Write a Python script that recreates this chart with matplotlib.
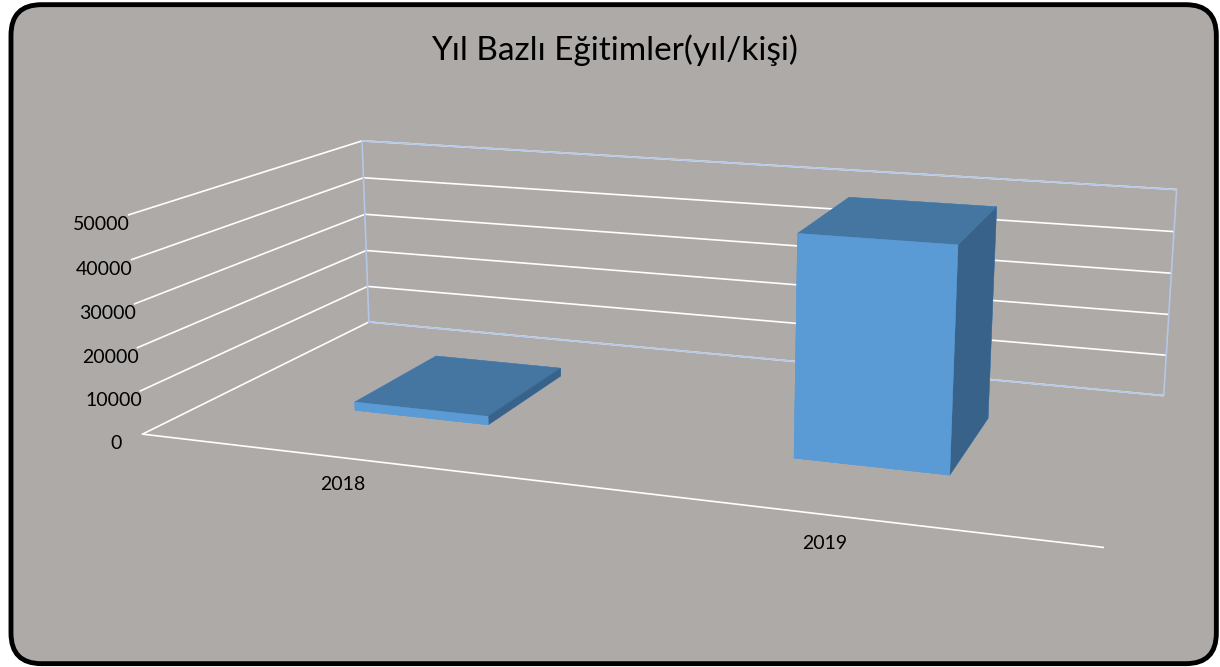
import numpy as np
import matplotlib.pyplot as plt
from matplotlib.patches import FancyBboxPatch

# veriler
years = ["2018", "2019"]
values = [2000, 49500]
z_ticks = [0, 10000, 20000, 30000, 40000, 50000]
title = "Yıl Bazlı Eğitimler(yıl/kişi)"

bg = "#adaaa8"
c_front = "#5b9bd5"
c_top = "#4575a1"
c_side = "#386289"
c_wall = "#b4c7e7"

plt.rcParams['font.family'] = ['Lato', 'DejaVu Sans']

fig = plt.figure(figsize=(12.2, 6.67), dpi=100, facecolor="white")

# cerceve
frame = FancyBboxPatch((0.009, 0.005), 0.988, 0.988,
                       boxstyle="round,pad=0,rounding_size=0.025",
                       mutation_aspect=1220 / 667,
                       transform=fig.transFigure, fc=bg, ec="black", lw=3.5,
                       zorder=-10)
fig.patches.append(frame)

# kare 3d alan
ax = fig.add_axes([0.268, 0.0225, 667 / 1220, 1.0], projection="3d")
ax.set_facecolor("none")
ax.patch.set_visible(False)

xmax = len(years)
zmax = z_ticks[-1]

# arka duvar kenarlari
wall, = ax.plot([0, 0, xmax, xmax, 0], [1, 1, 1, 1, 1], [0, zmax, zmax, 0, 0],
                color=c_wall, lw=1.2)
wall.set_clip_on(False)

# cubuklar
bw = 0.32
xs = np.arange(len(years)) + 0.5 - bw / 2
face_cols = []
for _ in years:
    # -z, +z, -y, +y, -x, +x
    face_cols += [c_front, c_top, c_front, c_front, c_front, c_side]
bars = ax.bar3d(xs, np.full(len(years), 0.3), np.zeros(len(years)),
                bw, 0.4, values, color=face_cols, shade=False)
bars.set_edgecolor(face_cols)
bars.set_linewidth(0.3)
bars.set_clip_on(False)

ax.set_xlim(0, xmax)
ax.set_ylim(0, 1)
ax.set_zlim(0, zmax)

ax.set_xticks(np.arange(len(years)) + 0.5)
ax.set_xticklabels(years, fontsize=14)
ax.set_yticks([])
ax.set_zticks(z_ticks)
ax.set_zticklabels([str(t) for t in z_ticks], fontsize=14)
ax.zaxis.set_ticks_position('lower')
ax.zaxis.set_tick_params(pad=-2)

# duvarlar
for a in (ax.xaxis, ax.yaxis, ax.zaxis):
    a.set_pane_color((0, 0, 0, 0))
    a.pane.set_edgecolor((0, 0, 0, 0))
    a._axinfo['tick']['inward_factor'] = 0
    a._axinfo['tick']['outward_factor'] = 0

ax.xaxis._axinfo['grid']['color'] = (0, 0, 0, 0)
ax.yaxis._axinfo['grid']['color'] = (0, 0, 0, 0)
ax.zaxis._axinfo['grid']['color'] = "white"
ax.zaxis._axinfo['grid']['linewidth'] = 1.2

ax.xaxis.line.set_color("white")
ax.xaxis.line.set_linewidth(1.2)
ax.yaxis.line.set_visible(False)
ax.zaxis.line.set_visible(False)

ax.view_init(elev=14, azim=-70.5)
ax.set_proj_type('persp', focal_length=0.552)
ax.set_box_aspect((4.25, 2.15, 1), zoom=1.55)

fig.text(0.504, 0.925, title, ha="center", va="center", fontsize=24)

fig.savefig("out.png", dpi=100, facecolor="white")
